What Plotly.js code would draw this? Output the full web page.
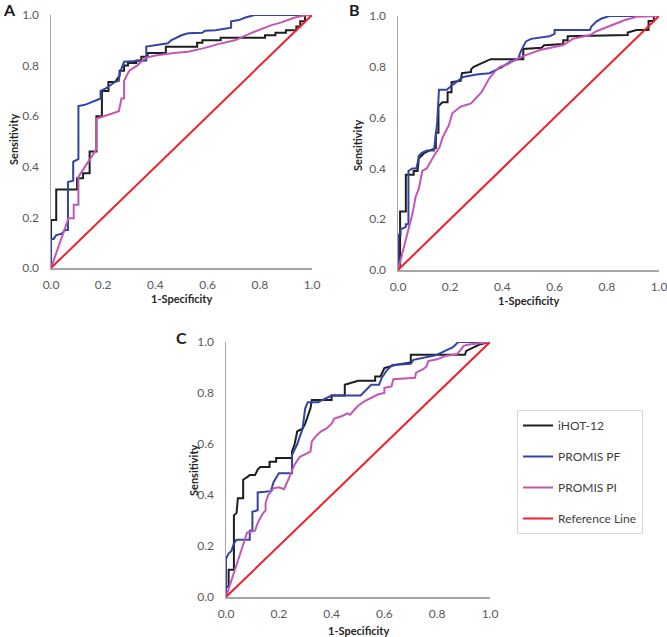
<!DOCTYPE html>
<html>
<head>
<meta charset="utf-8">
<script src="https://cdn.plot.ly/plotly-3.0.1.min.js"></script>
<style>
  body { margin: 0; background: #fff; }
  #plot { width: 667px; height: 637px; }
</style>
</head>
<body>
<div id="plot"></div>
<script>
// ROC curves: x = 1-Specificity, y = Sensitivity

// Panel A
let aIhotX = [0, 0, 0.02, 0.02, 0.10, 0.10, 0.123, 0.123, 0.148, 0.148, 0.174, 0.174, 0.195, 0.195, 0.22, 0.22, 0.245, 0.263, 0.263, 0.28, 0.28, 0.295, 0.295, 0.327, 0.327, 0.346, 0.346, 0.37, 0.37, 0.44, 0.44, 0.56, 0.56, 0.58, 0.58, 0.65, 0.65, 0.82, 0.82, 0.86, 0.86, 0.90, 0.90, 0.94, 0.94, 0.955, 0.955, 0.973, 0.973, 1.0];
let aIhotY = [0, 0.19, 0.19, 0.31, 0.31, 0.355, 0.355, 0.375, 0.375, 0.46, 0.46, 0.60, 0.60, 0.70, 0.70, 0.735, 0.735, 0.76, 0.78, 0.78, 0.80, 0.80, 0.81, 0.81, 0.82, 0.82, 0.835, 0.835, 0.85, 0.85, 0.875, 0.875, 0.89, 0.89, 0.90, 0.90, 0.91, 0.91, 0.92, 0.92, 0.93, 0.93, 0.94, 0.94, 0.955, 0.955, 0.975, 0.975, 1.0, 1.0];
let aPfX = [0, 0, 0.01, 0.02, 0.04, 0.055, 0.065, 0.065, 0.085, 0.085, 0.105, 0.105, 0.13, 0.19, 0.19, 0.21, 0.245, 0.26, 0.263, 0.28, 0.365, 0.365, 0.448, 0.46, 0.50, 0.525, 0.58, 0.59, 0.63, 0.69, 0.69, 0.72, 0.745, 0.78, 1.0];
let aPfY = [0, 0.115, 0.115, 0.13, 0.135, 0.15, 0.15, 0.34, 0.345, 0.42, 0.43, 0.64, 0.645, 0.67, 0.70, 0.71, 0.735, 0.74, 0.77, 0.815, 0.82, 0.875, 0.888, 0.90, 0.92, 0.928, 0.93, 0.938, 0.94, 0.95, 0.975, 0.98, 0.99, 1.0, 1.0];
let aPiX = [0, 0.067, 0.087, 0.087, 0.105, 0.105, 0.174, 0.174, 0.26, 0.27, 0.28, 0.28, 0.30, 0.33, 0.36, 0.40, 0.47, 0.525, 0.59, 0.64, 0.705, 0.77, 0.845, 0.88, 0.935, 0.965, 1.0];
let aPiY = [0, 0.197, 0.197, 0.25, 0.25, 0.36, 0.47, 0.59, 0.62, 0.67, 0.67, 0.74, 0.78, 0.80, 0.83, 0.84, 0.85, 0.855, 0.87, 0.885, 0.90, 0.93, 0.96, 0.97, 0.99, 0.997, 1.0];

// Panel B
let bIhotX = [0, 0.008, 0.008, 0.03, 0.03, 0.06, 0.06, 0.075, 0.08, 0.09, 0.10, 0.12, 0.145, 0.145, 0.155, 0.155, 0.17, 0.19, 0.19, 0.205, 0.205, 0.24, 0.245, 0.28, 0.28, 0.29, 0.31, 0.33, 0.355, 0.48, 0.48, 0.55, 0.56, 0.633, 0.633, 0.65, 0.65, 0.88, 0.88, 0.914, 0.96, 0.96, 0.98, 0.98, 1.0];
let bIhotY = [0, 0.02, 0.23, 0.23, 0.375, 0.375, 0.39, 0.39, 0.44, 0.45, 0.46, 0.47, 0.48, 0.54, 0.54, 0.645, 0.66, 0.66, 0.70, 0.70, 0.74, 0.745, 0.775, 0.78, 0.79, 0.80, 0.81, 0.82, 0.83, 0.83, 0.87, 0.875, 0.885, 0.89, 0.905, 0.905, 0.92, 0.925, 0.935, 0.945, 0.945, 0.98, 0.98, 1.0, 1.0];
let bPfX = [0, 0, 0.01, 0.01, 0.03, 0.03, 0.04, 0.04, 0.055, 0.07, 0.075, 0.08, 0.09, 0.11, 0.138, 0.145, 0.15, 0.157, 0.187, 0.21, 0.235, 0.25, 0.30, 0.35, 0.38, 0.40, 0.43, 0.46, 0.47, 0.49, 0.51, 0.58, 0.60, 0.60, 0.736, 0.74, 0.76, 0.78, 0.81, 1.0];
let bPfY = [0, 0.14, 0.14, 0.16, 0.17, 0.18, 0.18, 0.39, 0.40, 0.40, 0.42, 0.45, 0.46, 0.47, 0.47, 0.54, 0.58, 0.71, 0.71, 0.73, 0.75, 0.76, 0.77, 0.775, 0.79, 0.80, 0.82, 0.83, 0.86, 0.90, 0.91, 0.92, 0.93, 0.945, 0.945, 0.958, 0.978, 0.99, 1.0, 1.0];
let bPiX = [0, 0.042, 0.055, 0.068, 0.08, 0.093, 0.11, 0.138, 0.16, 0.17, 0.195, 0.208, 0.24, 0.28, 0.30, 0.32, 0.35, 0.37, 0.39, 0.42, 0.46, 0.49, 0.544, 0.633, 0.67, 0.736, 0.76, 0.825, 0.87, 0.914, 1.0];
let bPiY = [0, 0.17, 0.22, 0.29, 0.32, 0.39, 0.40, 0.45, 0.485, 0.52, 0.57, 0.617, 0.643, 0.656, 0.68, 0.70, 0.755, 0.78, 0.80, 0.81, 0.833, 0.846, 0.866, 0.886, 0.91, 0.925, 0.94, 0.965, 0.984, 0.997, 1.0];

// Panel C
let cIhotX = [0, 0, 0.01, 0.01, 0.03, 0.03, 0.04, 0.045, 0.065, 0.065, 0.08, 0.09, 0.11, 0.12, 0.13, 0.165, 0.165, 0.19, 0.19, 0.25, 0.25, 0.26, 0.27, 0.29, 0.30, 0.31, 0.32, 0.325, 0.40, 0.40, 0.45, 0.45, 0.50, 0.565, 0.565, 0.585, 0.60, 0.64, 0.70, 0.70, 0.905, 0.91, 0.94, 0.96, 1.0];
let cIhotY = [0, 0.04, 0.04, 0.107, 0.107, 0.32, 0.33, 0.387, 0.387, 0.46, 0.47, 0.478, 0.478, 0.50, 0.51, 0.51, 0.53, 0.53, 0.545, 0.545, 0.57, 0.60, 0.65, 0.66, 0.68, 0.71, 0.74, 0.773, 0.773, 0.79, 0.79, 0.832, 0.848, 0.848, 0.865, 0.865, 0.898, 0.91, 0.92, 0.95, 0.95, 0.965, 0.98, 0.99, 1.0];
let cPfX = [0, 0, 0.01, 0.02, 0.03, 0.04, 0.09, 0.09, 0.10, 0.10, 0.12, 0.12, 0.17, 0.18, 0.20, 0.25, 0.25, 0.27, 0.29, 0.30, 0.31, 0.35, 0.36, 0.40, 0.51, 0.53, 0.55, 0.58, 0.59, 0.61, 0.63, 0.70, 0.71, 0.78, 0.80, 0.83, 0.86, 0.88, 1.0];
let cPfY = [0, 0.15, 0.17, 0.18, 0.21, 0.225, 0.225, 0.26, 0.26, 0.334, 0.34, 0.41, 0.415, 0.45, 0.485, 0.485, 0.557, 0.60, 0.66, 0.74, 0.764, 0.764, 0.77, 0.79, 0.79, 0.81, 0.832, 0.832, 0.86, 0.89, 0.91, 0.915, 0.93, 0.945, 0.95, 0.965, 0.98, 1.0, 1.0];
let cPiX = [0, 0.08, 0.11, 0.12, 0.13, 0.14, 0.15, 0.15, 0.16, 0.18, 0.20, 0.22, 0.24, 0.26, 0.28, 0.30, 0.32, 0.325, 0.34, 0.36, 0.38, 0.40, 0.41, 0.44, 0.46, 0.47, 0.49, 0.50, 0.527, 0.577, 0.60, 0.60, 0.627, 0.634, 0.716, 0.72, 0.747, 0.76, 0.766, 0.80, 0.83, 0.874, 0.89, 0.90, 0.92, 1.0];
let cPiY = [0, 0.253, 0.26, 0.29, 0.31, 0.328, 0.34, 0.37, 0.40, 0.426, 0.43, 0.423, 0.47, 0.52, 0.55, 0.56, 0.57, 0.61, 0.63, 0.65, 0.66, 0.68, 0.70, 0.71, 0.72, 0.715, 0.74, 0.75, 0.769, 0.795, 0.80, 0.82, 0.826, 0.854, 0.86, 0.88, 0.893, 0.905, 0.925, 0.932, 0.945, 0.952, 0.97, 0.985, 0.99, 1.0];

// chance line
let refX = [0, 1];
let refY = [0, 1];

let seriesNames = ['iHOT-12', 'PROMIS PF', 'PROMIS PI', 'Reference Line'];
let seriesColors = ['#1e1e1e', '#3444a4', '#c356b6', '#f0202a'];
let panelLetters = ['A', 'B', 'C'];

let panels = [
    { xs: [aIhotX, aPfX, aPiX, refX], ys: [aIhotY, aPfY, aPiY, refY] },
    { xs: [bIhotX, bPfX, bPiX, refX], ys: [bIhotY, bPfY, bPiY, refY] },
    { xs: [cIhotX, cPfX, cPiX, refX], ys: [cIhotY, cPfY, cPiY, refY] }
];

let data = [];
panels.forEach(function(panel, p) {
    let suffix = p === 0 ? '' : String(p + 1);
    for (let i = 0; i < 4; i++) {
        data.push({
            x: panel.xs[i],
            y: panel.ys[i],
            type: 'scatter',
            mode: 'lines',
            name: seriesNames[i],
            legendgroup: seriesNames[i],
            showlegend: p === 2,
            line: { color: seriesColors[i], width: 2 },
            xaxis: 'x' + suffix,
            yaxis: 'y' + suffix,
            hoverinfo: 'skip'
        });
    }
});

// page is 667 x 637 with zero margins, so paper fractions = pixels
const W = 667, H = 637;
function px(v) { return v / W; }
function py(v) { return 1 - v / H; }

let tickFont = { family: 'Lato, "Open Sans", sans-serif', size: 12, color: '#595959' };

function xAxis(left, right, anchor) {
    return {
        domain: [px(left), px(right)],
        anchor: anchor,
        range: [0, 1],
        dtick: 0.2,
        tick0: 0,
        tickformat: '.1f',
        showgrid: false,
        zeroline: false,
        showline: true,
        linecolor: '#a6a6a6',
        linewidth: 1.5,
        ticks: '',
        ticklabelstandoff: 5,
        ticklabeloverflow: 'allow',
        tickfont: tickFont,
        fixedrange: true
    };
}

function yAxis(top, bottom, anchor) {
    return {
        domain: [py(bottom), py(top)],
        anchor: anchor,
        range: [0, 1],
        dtick: 0.2,
        tick0: 0,
        tickformat: '.1f',
        showgrid: false,
        zeroline: false,
        showline: true,
        linecolor: '#a6a6a6',
        linewidth: 1.5,
        ticks: '',
        ticklabelstandoff: 8,
        ticklabeloverflow: 'allow',
        tickfont: tickFont,
        fixedrange: true
    };
}

let titleFont = { family: 'Lato, "Open Sans", sans-serif', size: 11, color: '#262626', weight: 'bold' };
let letterFont = { family: 'Lato, "Open Sans", sans-serif', size: 16, color: '#1a1a1a', weight: 'bold' };

function label(text, x, y, font, angle) {
    return {
        text: text,
        xref: 'paper', yref: 'paper',
        x: px(x), y: py(y),
        xanchor: 'center', yanchor: 'middle',
        showarrow: false,
        textangle: angle || 0,
        font: font
    };
}

let annotations = [
    label(panelLetters[0], 9, 10, letterFont),
    label(panelLetters[1], 354, 10, letterFont),
    label(panelLetters[2], 182, 337, letterFont),
    label('1-Specificity', 181, 298, titleFont),
    label('1-Specificity', 528, 300, titleFont),
    label('1-Specificity', 358, 630, titleFont),
    label('Sensitivity', 13, 140, titleFont, -90),
    label('Sensitivity', 357, 145, titleFont, -90),
    label('Sensitivity', 193, 471, titleFont, -90)
];

let layout = {
    width: W,
    height: H,
    margin: { l: 0, r: 0, t: 0, b: 0 },
    paper_bgcolor: '#ffffff',
    plot_bgcolor: '#ffffff',
    xaxis: xAxis(51, 312, 'y'),
    yaxis: yAxis(15, 268, 'x'),
    xaxis2: xAxis(398, 659, 'y2'),
    yaxis2: yAxis(16, 270, 'x2'),
    xaxis3: xAxis(226, 490, 'y3'),
    yaxis3: yAxis(342, 597, 'x3'),
    annotations: annotations,
    showlegend: true,
    legend: {
        x: px(517),
        y: py(410),
        xanchor: 'left',
        yanchor: 'top',
        bordercolor: '#d9d9d9',
        borderwidth: 1,
        bgcolor: '#ffffff',
        tracegroupgap: 12,
        font: { family: 'Lato, "Open Sans", sans-serif', size: 12, color: '#404040' }
    }
};

Plotly.newPlot('plot', data, layout, { displayModeBar: false, staticPlot: true });
</script>
</body>
</html>
